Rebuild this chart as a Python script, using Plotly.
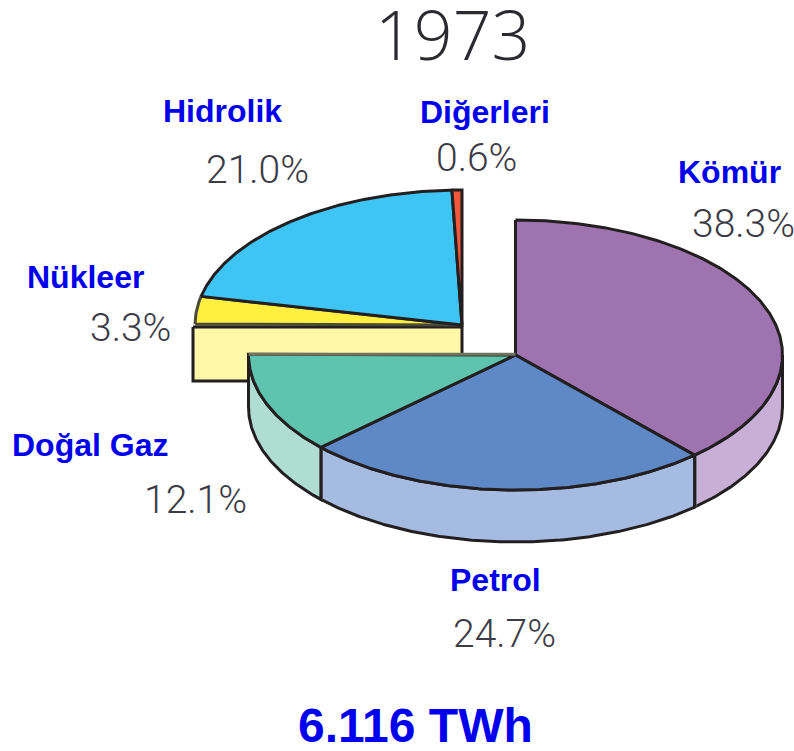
import math
import plotly.graph_objects as go

# ---- chart data ----
title = "1973"
total_label = "6.116 TWh"
categories = ["Kömür", "Petrol", "Doğal Gaz", "Nükleer", "Hidrolik", "Diğerleri"]
shares = [38.3, 24.7, 12.1, 3.3, 21.0, 0.6]

# ---- styles / geometry ----
top_colors = ["#9F73B0", "#5F88C6", "#5FC4AD", "#FFF040", "#3EC5F5", "#F4583C"]
side_colors = ["#C8AFD6", "#A6BBE2", "#AFDDD2", "#FFF8A8", "#3EC5F5", "#F4583C"]
exploded = [False, False, False, True, True, True]
CX, CY, RX, RY, DEPTH = 515.5, 355, 267, 135, 52
DX, DY = -53.5, -30
INK = "#231F20"
LABEL_POS = {"Kömür": (729, 172), "Petrol": (495, 580), "Doğal Gaz": (90, 445),
             "Nükleer": (85, 277), "Hidrolik": (222, 111), "Diğerleri": (485, 112)}
PCT_POS = {"Kömür": (743, 224), "Petrol": (504, 634), "Doğal Gaz": (195, 500),
           "Nükleer": (130, 328), "Hidrolik": (257, 170), "Diğerleri": (476, 158)}

total = sum(shares)
edges = [0.0]
for s in shares:
    edges.append(edges[-1] + s / total * 360)


def rim(a0, a1, cx, cy, dy=0, n=None):
    n = n or max(2, int(abs(a1 - a0)) * 2 + 2)
    xs, ys = [], []
    for i in range(n + 1):
        t = math.radians(a0 + (a1 - a0) * i / n)
        xs.append(cx + RX * math.sin(t))
        ys.append(cy - RY * math.cos(t) + dy)
    return xs, ys


fig = go.Figure()


def poly(xs, ys, fill, line=INK, width=3, close=True):
    if close:
        xs, ys = xs + xs[:1], ys + ys[:1]
    fig.add_trace(go.Scatter(
        x=xs, y=ys, mode="lines", fill="toself" if fill else None,
        fillcolor=fill, line=dict(color=line, width=width, shape="linear"),
        hoverinfo="skip", showlegend=False))


# exploded group: cut face of Nükleer first
nuk = categories.index("Nükleer")
ex_cx, ex_cy = CX + DX, CY + DY
lx, _ = rim(edges[nuk], edges[nuk], ex_cx, ex_cy, n=1)
face_x = [lx[0] - 2, ex_cx, ex_cx, lx[0] - 2]
face_y = [ex_cy + 2, ex_cy + 2, ex_cy + 2 + 54, ex_cy + 2 + 54]
poly(face_x, face_y, side_colors[nuk])

for i in range(len(categories)):
    if exploded[i]:
        xs, ys = rim(edges[i], edges[i + 1], ex_cx, ex_cy)
        poly(xs + [ex_cx], ys + [ex_cy], top_colors[i],
             line="#4A4A3A" if i == nuk else INK)

# main body: side walls of the visible front slices
for i in range(3):
    a0, a1 = edges[i], edges[i + 1]
    a0 = max(a0, 90)
    xs, ys = rim(a0, a1, CX, CY)
    xb, yb = rim(a1, a0, CX, CY, DEPTH)
    poly(xs + xb, ys + yb, side_colors[i])
    # dividers between walls are softer than the outline
    if i < 2:
        fig.add_trace(go.Scatter(
            x=[xs[-1], xs[-1]], y=[ys[-1], ys[-1] + DEPTH], mode="lines",
            line=dict(color="#626C74", width=4), hoverinfo="skip", showlegend=False))

# main body: tops
for i in range(3):
    xs, ys = rim(edges[i], edges[i + 1], CX, CY)
    poly(xs + [CX], ys + [CY], top_colors[i])

# soft upper edge of the Doğal Gaz slice
dg = categories.index("Doğal Gaz")
xs, ys = rim(edges[dg + 1], edges[dg + 1], CX, CY, n=1)
fig.add_trace(go.Scatter(x=[xs[0], CX], y=[ys[0], ys[0]], mode="lines",
                         line=dict(color="#6E7560", width=3),
                         hoverinfo="skip", showlegend=False))

annotations = [dict(x=452, y=33, text=title,
                    font=dict(family="Open Sans", size=68, color="#2A2A30", weight=300))]
for i, c in enumerate(categories):
    lp, pp = LABEL_POS[c], PCT_POS[c]
    annotations.append(dict(x=lp[0], y=lp[1], text=f"<b>{c}</b>",
                            font=dict(family="Liberation Sans", size=32, color="#0000EE")))
    annotations.append(dict(x=pp[0], y=pp[1], text=f"{shares[i]:.1f}%",
                            font=dict(family="Roboto", size=39, color="#3C3C46", weight=300)))
annotations.append(dict(x=415, y=725, text=f"<b>{total_label}</b>",
                        font=dict(family="Liberation Sans", size=48, color="#0000EE")))
for a in annotations:
    a.update(xref="x", yref="y", showarrow=False, xanchor="center", yanchor="middle")

fig.update_layout(
    width=794, height=751, margin=dict(l=0, r=0, t=0, b=0),
    paper_bgcolor="white", plot_bgcolor="white", showlegend=False,
    xaxis=dict(range=[0, 794], visible=False, fixedrange=True),
    yaxis=dict(range=[751, 0], visible=False, fixedrange=True),
    annotations=annotations,
)
fig.write_html("out.html", config=dict(displayModeBar=False),
               post_script="document.body.style.margin='0';")
